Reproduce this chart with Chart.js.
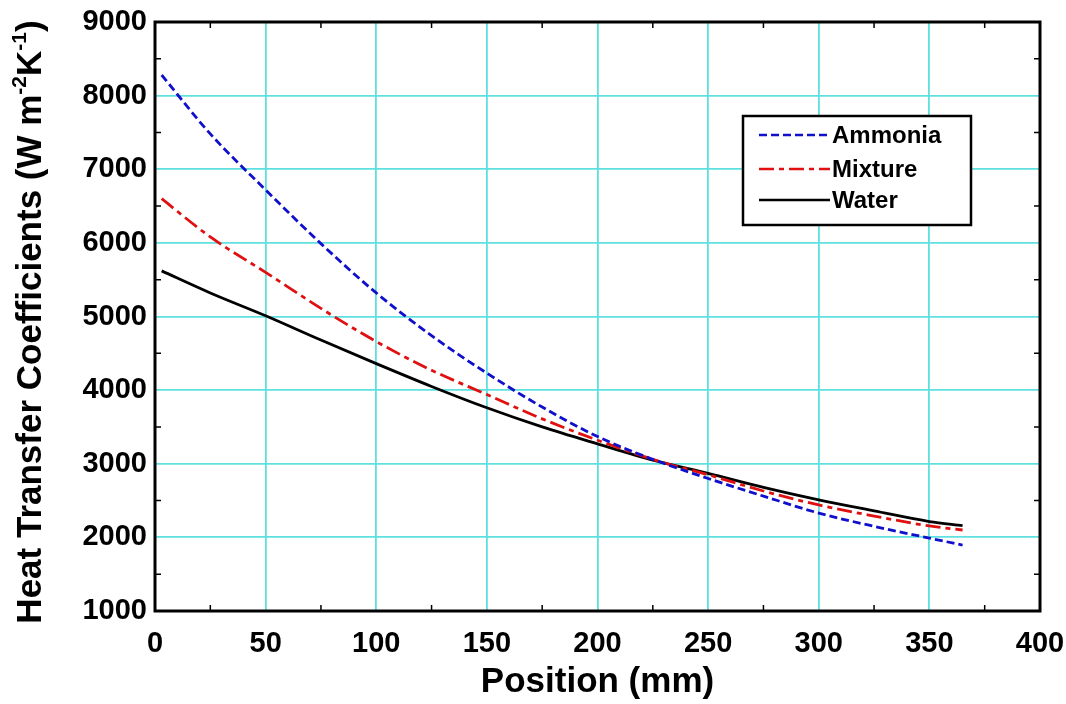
<!DOCTYPE html>
<html>
<head>
<meta charset="utf-8">
<script src="https://cdn.jsdelivr.net/npm/chart.js@4/dist/chart.umd.min.js"></script>
<style>
  html, body { margin: 0; padding: 0; background: #fff; }
  #wrap { width: 1066px; height: 704px; }
</style>
</head>
<body>
<div id="wrap"><canvas id="chart"></canvas></div>
<script>
// positions along the tube (mm)
var positions = [3, 25, 50, 75, 100, 125, 150, 175, 200, 225, 250, 275, 300, 325, 350, 365];
// heat transfer coefficients, W m-2 K-1
var ammonia = [8280, 7480, 6720, 5990, 5320, 4740, 4230, 3770, 3370, 3060, 2800, 2560, 2330, 2150, 1990, 1895];
var mixture = [6600, 6080, 5600, 5110, 4660, 4270, 3940, 3610, 3320, 3060, 2850, 2630, 2440, 2290, 2155, 2100];
var water   = [5620, 5320, 5010, 4680, 4360, 4050, 3760, 3500, 3270, 3050, 2870, 2680, 2510, 2360, 2215, 2160];

var seriesNames = ['Ammonia', 'Mixture', 'Water'];
var xTicks = [0, 50, 100, 150, 200, 250, 300, 350, 400];
var yTicks = [1000, 2000, 3000, 4000, 5000, 6000, 7000, 8000, 9000];

var FONT = '"Liberation Sans", Arial, sans-serif';

function toPoints(values) {
    var pts = [];
    values.forEach(function (v, i) {
        pts.push({ x: positions[i], y: v });
    });
    return pts;
}

// frame, minor ticks on all four sides
var framePlugin = {
    id: 'frame',
    afterDatasetsDraw: function (chart) {
        var ctx = chart.ctx, a = chart.chartArea;
        var xs = chart.scales.x, ys = chart.scales.y;
        ctx.save();
        ctx.strokeStyle = '#000';
        ctx.lineWidth = 1.5;
        ctx.beginPath();
        for (var xv = 25; xv < 400; xv += 50) {
            var px = xs.getPixelForValue(xv);
            ctx.moveTo(px, a.bottom); ctx.lineTo(px, a.bottom - 6);
            ctx.moveTo(px, a.top); ctx.lineTo(px, a.top + 6);
        }
        for (var yv = 1500; yv < 9000; yv += 1000) {
            var py = ys.getPixelForValue(yv);
            ctx.moveTo(a.left, py); ctx.lineTo(a.left + 6, py);
            ctx.moveTo(a.right, py); ctx.lineTo(a.right - 6, py);
        }
        ctx.stroke();
        ctx.lineWidth = 3;
        ctx.strokeRect(a.left, a.top, a.right - a.left, a.bottom - a.top);
        ctx.restore();
    }
};

// boxed legend inside the plot
var legendPlugin = {
    id: 'boxLegend',
    afterDraw: function (chart) {
        var ctx = chart.ctx;
        var box = { x: 743, y: 116, w: 228, h: 109 };
        var rows = [135, 169, 200];
        ctx.save();
        ctx.fillStyle = '#fff';
        ctx.fillRect(box.x, box.y, box.w, box.h);
        ctx.strokeStyle = '#000';
        ctx.lineWidth = 2.5;
        ctx.strokeRect(box.x, box.y, box.w, box.h);
        chart.data.datasets.forEach(function (ds, i) {
            ctx.beginPath();
            ctx.strokeStyle = ds.borderColor;
            ctx.lineWidth = 2.5;
            ctx.setLineDash(ds.borderDash || []);
            ctx.moveTo(759, rows[i]);
            ctx.lineTo(830, rows[i]);
            ctx.stroke();
            ctx.setLineDash([]);
            ctx.fillStyle = '#000';
            ctx.font = 'bold 24px ' + FONT;
            ctx.textBaseline = 'middle';
            ctx.textAlign = 'left';
            ctx.fillText(ds.label, 832, rows[i] + 1);
        });
        ctx.restore();
    }
};

// y title with superscripts
var yTitlePlugin = {
    id: 'yTitle',
    afterDraw: function (chart) {
        var ctx = chart.ctx;
        var parts = [
            { t: 'Heat Transfer Coefficients (W m', sup: false },
            { t: '-2', sup: true },
            { t: 'K', sup: false },
            { t: '-1', sup: true },
            { t: ')', sup: false }
        ];
        var big = 'bold 35px ' + FONT, small = 'bold 21px ' + FONT;
        ctx.save();
        var total = 0;
        parts.forEach(function (p) {
            ctx.font = p.sup ? small : big;
            p.w = ctx.measureText(p.t).width;
            total += p.w;
        });
        ctx.translate(31, 322);
        ctx.rotate(-Math.PI / 2);
        ctx.fillStyle = '#000';
        ctx.textBaseline = 'middle';
        ctx.textAlign = 'left';
        var x = -total / 2;
        parts.forEach(function (p) {
            ctx.font = p.sup ? small : big;
            ctx.fillText(p.t, x, p.sup ? -11 : 0);
            x += p.w;
        });
        ctx.restore();
    }
};

function makeDataset(name, values, color, dash) {
    return {
        label: name,
        data: toPoints(values),
        borderColor: color,
        backgroundColor: color,
        borderWidth: 2.8,
        borderDash: dash,
        pointRadius: 0,
        fill: false,
        cubicInterpolationMode: 'monotone'
    };
}

var config = {
    type: 'line',
    data: {
        datasets: [
            makeDataset(seriesNames[0], ammonia, '#1010cc', [8, 4]),
            makeDataset(seriesNames[1], mixture, '#e01010', [15, 5, 5, 5]),
            makeDataset(seriesNames[2], water, '#000000', [])
        ]
    },
    options: {
        responsive: true,
        maintainAspectRatio: false,
        animation: false,
        layout: { padding: { left: 0, top: 22, right: 26, bottom: 0 } },
        plugins: {
            legend: { display: false },
            tooltip: { enabled: false }
        },
        scales: {
            x: {
                type: 'linear',
                min: 0,
                max: 400,
                afterBuildTicks: function (scale) {
                    scale.ticks = xTicks.map(function (v) { return { value: v }; });
                },
                afterFit: function (scale) {
                    scale.height = 93;
                    scale.paddingLeft = 0;
                    scale.paddingRight = 0;
                },
                grid: { color: '#5fe0e0', lineWidth: 1.8, drawTicks: false },
                border: { display: false },
                ticks: {
                    color: '#000',
                    padding: 16,
                    maxRotation: 0,
                    font: { family: FONT, size: 29, weight: 'bold' }
                },
                title: {
                    display: true,
                    text: 'Position (mm)',
                    color: '#000',
                    padding: { top: 0, bottom: 1 },
                    font: { family: FONT, size: 35, weight: 'bold' }
                }
            },
            y: {
                min: 1000,
                max: 9000,
                afterBuildTicks: function (scale) {
                    scale.ticks = yTicks.map(function (v) { return { value: v }; });
                },
                afterFit: function (scale) {
                    scale.width = 155;
                    scale.paddingTop = 0;
                    scale.paddingBottom = 0;
                },
                grid: { color: '#5fe0e0', lineWidth: 1.8, drawTicks: false },
                border: { display: false },
                ticks: {
                    color: '#000',
                    padding: 8,
                    font: { family: FONT, size: 29, weight: 'bold' },
                    callback: function (value) { return String(value); }
                }
            }
        }
    },
    plugins: [framePlugin, legendPlugin, yTitlePlugin]
};

var ctx = document.getElementById('chart');
window.myLine = new Chart(ctx, config);
</script>
</body>
</html>
